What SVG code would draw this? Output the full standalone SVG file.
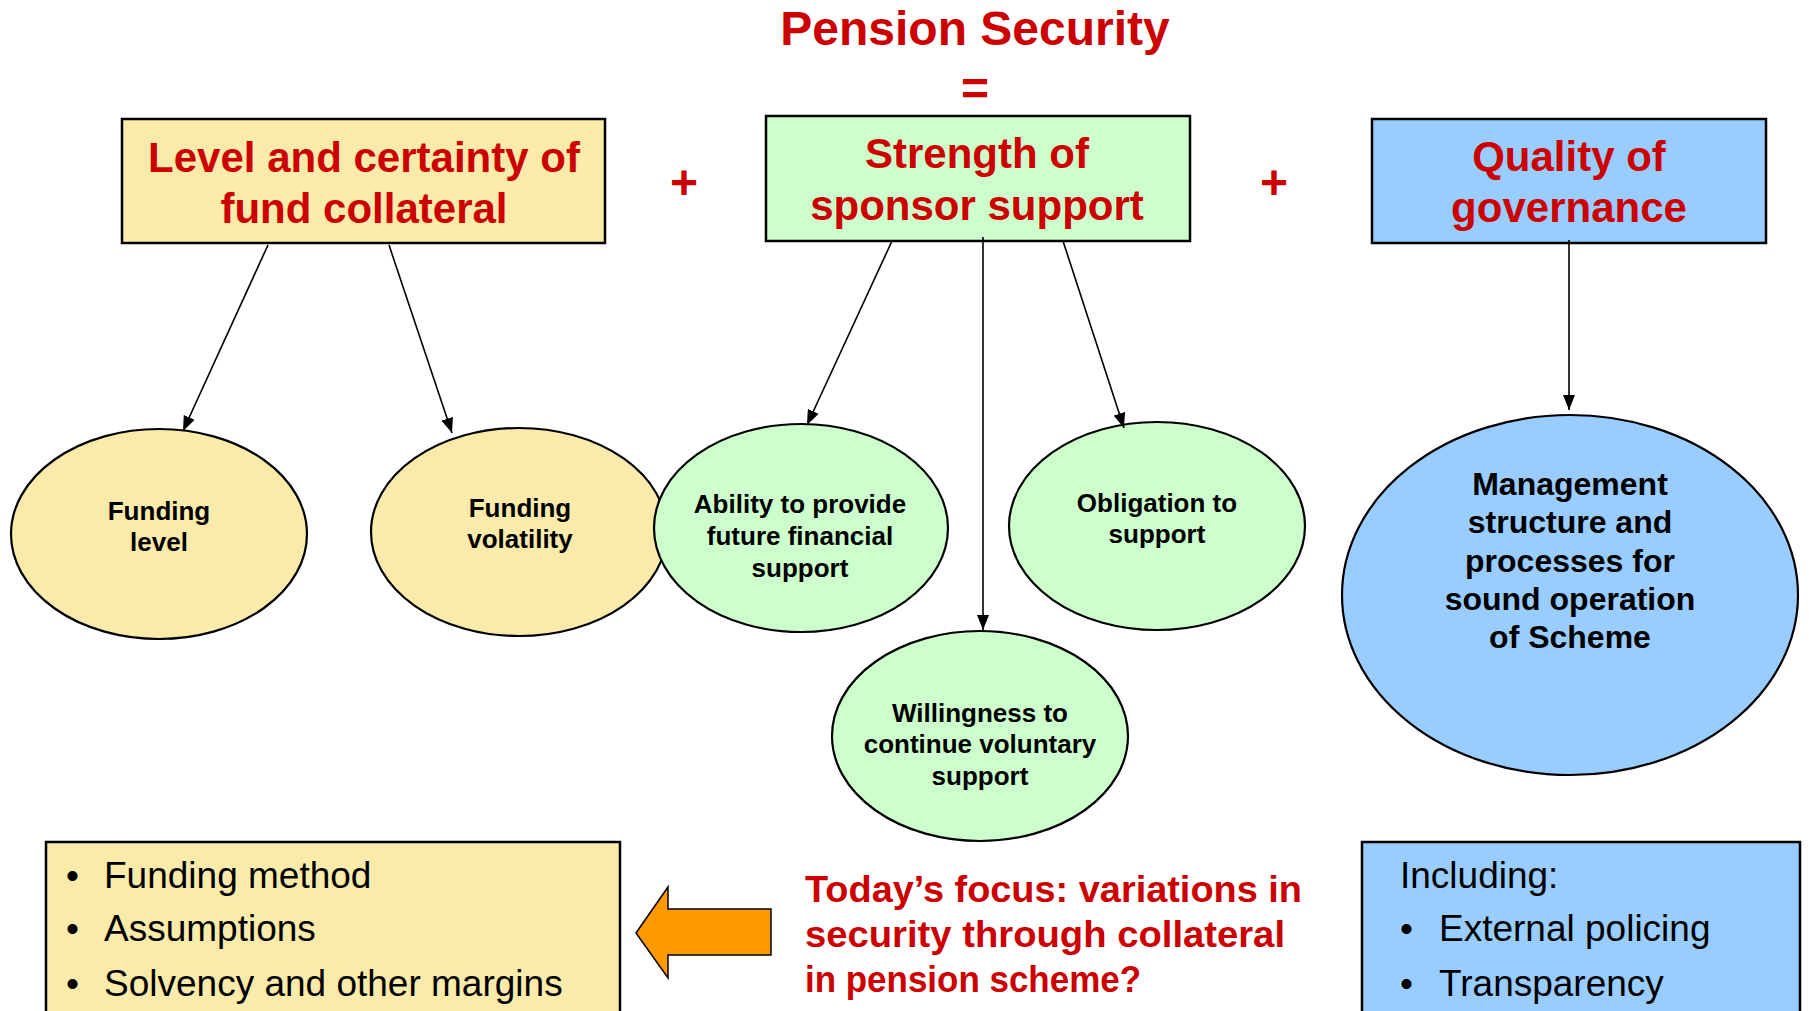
<svg xmlns="http://www.w3.org/2000/svg" width="1809" height="1011" viewBox="0 0 1809 1011">
<style>
.bg{fill:#ffffff}
.box{stroke:#000;stroke-width:2.5}
.ell{stroke:#000;stroke-width:2.2}
.y{fill:#FAEBAA}
.g{fill:#CCFFCC}
.b{fill:#99CCFF}
.head{font-family:"Liberation Sans",Arial,sans-serif;font-weight:bold;fill:#CC0000;text-anchor:middle}
.h42{font-size:42px}
.h48{font-size:48px}
.et{font-family:"Liberation Sans",Arial,sans-serif;font-weight:bold;font-size:26px;fill:#000;text-anchor:middle}
.mt{font-family:"Liberation Sans",Arial,sans-serif;font-weight:bold;font-size:32px;fill:#000;text-anchor:middle}
.bl{font-family:"Liberation Sans",Arial,sans-serif;font-size:37px;fill:#000}
.focus{font-family:"Liberation Sans",Arial,sans-serif;font-weight:bold;font-size:36px;fill:#CC0000}
.conn line{stroke:#000;stroke-width:1.6;fill:none}
</style>
<defs>
<marker id="ah" markerUnits="userSpaceOnUse" markerWidth="15" markerHeight="12" refX="15" refY="6" orient="auto">
<path d="M0,0 L15,6 L0,12 z" fill="#000"/>
</marker>
</defs>
<rect class="bg" x="0" y="0" width="1809" height="1011"/>

<g id="title">
<text class="head h48" x="975" y="45">Pension Security</text>
<text class="head h48" x="975" y="105">=</text>
<text class="head h48" x="684" y="199">+</text>
<text class="head h48" x="1274" y="199">+</text>
</g>

<g id="collateral">
<rect class="box y" x="122" y="119" width="483" height="124"/>
<text class="head h42" x="364" y="172">Level and certainty of</text>
<text class="head h42" x="364" y="223">fund collateral</text>
</g>

<g id="sponsor">
<rect class="box g" x="766" y="116" width="424" height="125"/>
<text class="head h42" x="977" y="168">Strength of</text>
<text class="head h42" x="977" y="220">sponsor support</text>
</g>

<g id="governance">
<rect class="box b" x="1372" y="119" width="394" height="124"/>
<text class="head h42" x="1569" y="171">Quality of</text>
<text class="head h42" x="1569" y="222">governance</text>
</g>

<g id="funding-level">
<ellipse class="ell y" cx="159" cy="534" rx="148" ry="105"/>
<text class="et" x="159" y="520">Funding</text>
<text class="et" x="159" y="551">level</text>
</g>

<g id="funding-volatility">
<ellipse class="ell y" cx="519" cy="532" rx="148" ry="104"/>
<text class="et" x="520" y="517">Funding</text>
<text class="et" x="520" y="548">volatility</text>
</g>

<g id="ability">
<ellipse class="ell g" cx="801" cy="528" rx="147" ry="104"/>
<text class="et" x="800" y="513">Ability to provide</text>
<text class="et" x="800" y="545">future financial</text>
<text class="et" x="800" y="577">support</text>
</g>

<g id="obligation">
<ellipse class="ell g" cx="1157" cy="526" rx="148" ry="104"/>
<text class="et" x="1157" y="512">Obligation to</text>
<text class="et" x="1157" y="543">support</text>
</g>

<g id="willingness">
<ellipse class="ell g" cx="980" cy="736" rx="148" ry="105"/>
<text class="et" x="980" y="722">Willingness to</text>
<text class="et" x="980" y="753">continue voluntary</text>
<text class="et" x="980" y="785">support</text>
</g>

<g id="management">
<ellipse class="ell b" cx="1570" cy="595" rx="228" ry="180"/>
<text class="mt" x="1570" y="495">Management</text>
<text class="mt" x="1570" y="533">structure and</text>
<text class="mt" x="1570" y="572">processes for</text>
<text class="mt" x="1570" y="610">sound operation</text>
<text class="mt" x="1570" y="648">of Scheme</text>
</g>

<g class="conn" id="connectors">
<line x1="268" y1="245" x2="183" y2="431" marker-end="url(#ah)"/>
<line x1="389" y1="245" x2="452" y2="433" marker-end="url(#ah)"/>
<line x1="892" y1="241" x2="807" y2="425" marker-end="url(#ah)"/>
<line x1="983" y1="237" x2="983" y2="630" marker-end="url(#ah)"/>
<line x1="1063" y1="241" x2="1124" y2="428" marker-end="url(#ah)"/>
<line x1="1569" y1="240" x2="1569" y2="410" marker-end="url(#ah)"/>
</g>

<g id="collateral-details">
<rect class="box y" x="46" y="842" width="574" height="180"/>
<text class="bl" x="66" y="888">•</text>
<text class="bl" x="104" y="888">Funding method</text>
<text class="bl" x="66" y="941">•</text>
<text class="bl" x="104" y="941">Assumptions</text>
<text class="bl" x="66" y="996">•</text>
<text class="bl" x="104" y="996">Solvency and other margins</text>
</g>

<g id="focus-arrow">
<path d="M636,933 L668,887 L668,909 L771,909 L771,955 L668,955 L668,978 Z" fill="#FF9900" stroke="#000" stroke-width="1.5" stroke-linejoin="miter"/>
</g>

<g id="focus-text">
<text class="focus" x="805" y="902" textLength="497" lengthAdjust="spacingAndGlyphs">Today’s focus: variations in</text>
<text class="focus" x="805" y="947" textLength="480" lengthAdjust="spacingAndGlyphs">security through collateral</text>
<text class="focus" x="805" y="992" textLength="336" lengthAdjust="spacingAndGlyphs">in pension scheme?</text>
</g>

<g id="governance-details">
<rect class="box b" x="1362" y="842" width="438" height="180"/>
<text class="bl" x="1400" y="888">Including:</text>
<text class="bl" x="1400" y="941">•</text>
<text class="bl" x="1439" y="941">External policing</text>
<text class="bl" x="1400" y="996">•</text>
<text class="bl" x="1439" y="996">Transparency</text>
</g>
</svg>
